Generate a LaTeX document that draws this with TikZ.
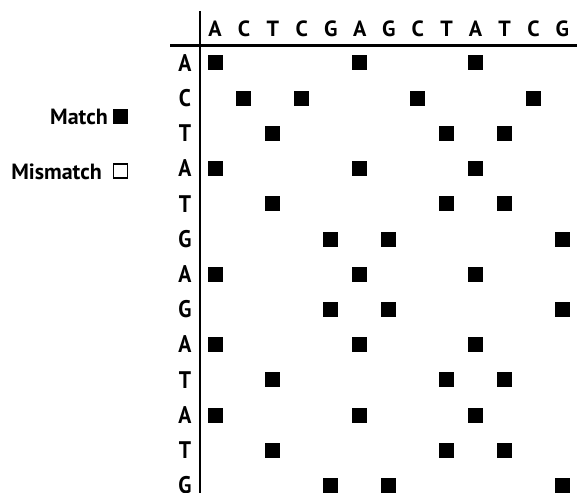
\documentclass[tikz,border=0pt]{standalone}
\usepackage{fontspec}
\setmainfont{PT Sans}
\newfontfamily\rowfont[FakeStretch=0.9]{PT Sans}
\begin{document}
\begin{tikzpicture}[x=1pt,y=-1pt,
  lbl/.style={font=\bfseries\fontsize{22}{26}\selectfont, inner sep=0pt, anchor=base},
  rowlbl/.style={font=\rowfont\bfseries\fontsize{24}{28}\selectfont, inner sep=0pt, anchor=base},
  legend/.style={font=\bfseries\fontsize{22}{26}\selectfont, inner sep=0pt, anchor=base east},
  hit/.style={fill=black, minimum size=15pt, inner sep=0pt},
  keyfull/.style={fill=black, minimum size=15pt, inner sep=0pt},
  keyempty/.style={draw=black, line width=1.1pt, minimum size=14pt, inner sep=0pt},
  axis/.style={line width=2.8pt}]
\clip (0,0) rectangle (577,492);
\useasboundingbox (0,0) rectangle (577,492);
% column headers
\foreach \c [count=\j] in {A,C,T,C,G,A,G,C,T,A,T,C,G}{
  \node[lbl] (c\j) at ({215+28.95*(\j-1)},36.5) {\c};
}
% row labels
\foreach \r [count=\i] in {A,C,T,A,T,G,A,G,A,T,A,T,G}{
  \node[rowlbl] (r\i) at (185,{63+35.2*(\i-1)+8.3}) {\r};
}
% matches
\foreach \r [count=\i] in {A,C,T,A,T,G,A,G,A,T,A,T,G}{
  \foreach \c [count=\j] in {A,C,T,C,G,A,G,C,T,A,T,C,G}{
    \ifx\r\c
      \node[hit] (m-\i-\j) at ({215+28.95*(\j-1)},{63+35.2*(\i-1)}) {};
    \fi
  }
}
% axes
\coordinate (vtop) at (200,11);
\coordinate (vbot) at (200,500);
\coordinate (hleft) at (170,45.5);
\coordinate (hright) at (580,45.5);
\draw[axis] (vtop) -- (vbot);
\draw[axis] (hleft) -- (hright);
% legend
\node[legend] (matchtxt) at (108,124) {Match};
\node[keyfull] (matchkey) at (120.5,116.5) {};
\node[legend] (mismatchtxt) at (102,179) {Mismatch};
\node[keyempty] (mismatchkey) at (120.5,171) {};
\end{tikzpicture}
\end{document}
